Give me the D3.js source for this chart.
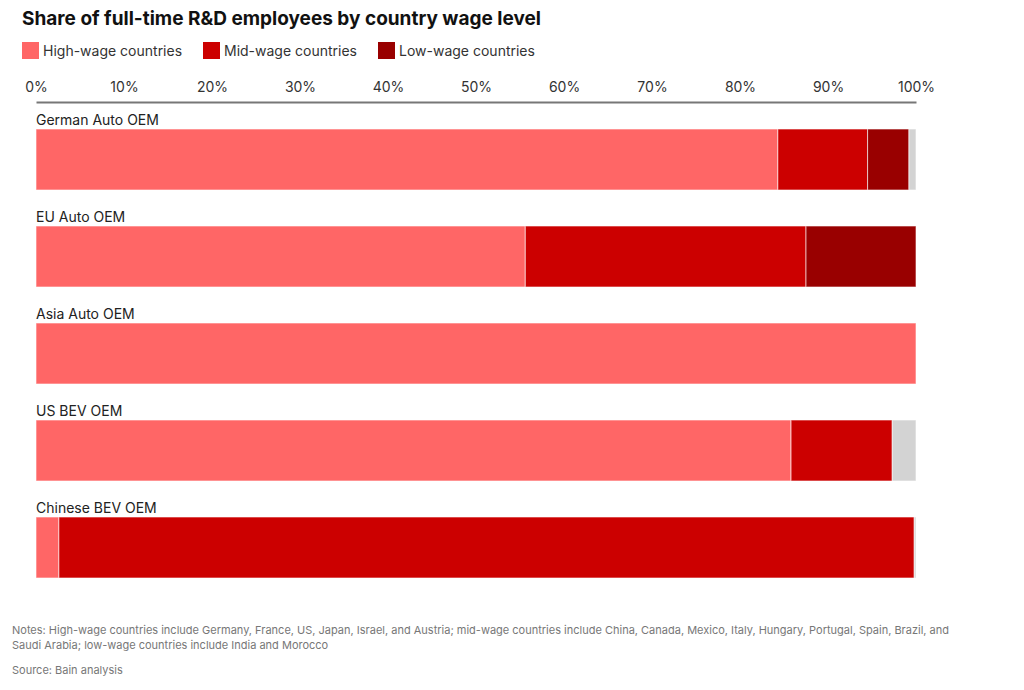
<!DOCTYPE html>
<html lang="en">
<head>
    <meta charset="UTF-8">
    <script src="https://cdnjs.cloudflare.com/ajax/libs/d3/7.9.0/d3.min.js"></script>
    <title>R&D employees by wage level</title>
    <style>
        body {
            margin: 0;
            padding: 0;
            background: #fff;
            font-family: Inter, "Noto Sans", Arial, sans-serif;
        }
        svg { display: block; }
    </style>
</head>
<body>
<div id="chart"></div>
<script>
    // data (percent of full-time R&D staff)
    const companies = ["German Auto OEM", "EU Auto OEM", "Asia Auto OEM", "US BEV OEM", "Chinese BEV OEM"];
    const highWage = [84.3, 55.6, 100, 85.8, 2.6];
    const midWage  = [10.2, 31.9, 0, 11.5, 97.2];
    const lowWage  = [4.7, 12.5, 0, 0, 0];
    const other    = [0.8, 0, 0, 2.7, 0.2];
    const ticks = [0, 10, 20, 30, 40, 50, 60, 70, 80, 90, 100];

    const seriesNames = ["High-wage countries", "Mid-wage countries", "Low-wage countries", "Other"];
    const colors = ["#ff6666", "#cc0000", "#990000", "#d3d3d3"];

    const width = 1024, height = 690;
    const svg = d3.select("#chart").append("svg").attr("width", width).attr("height", height);

    const rows = companies.map((c, i) => ({
        company: c, high: highWage[i], mid: midWage[i], low: lowWage[i], other: other[i]
    }));
    const stack = d3.stack().keys(["high", "mid", "low", "other"])(rows);

    const x = d3.scaleLinear().domain([0, 100]).range([36, 916]);
    // one band per company, step 97px; bar is 61px at top of band
    const yb = d3.scaleBand().domain(companies).range([129, 129 + 97 * 5]).paddingInner(0);

    // title
    svg.append("text")
        .attr("x", 22).attr("y", 25)
        .attr("font-size", 19).attr("font-weight", 700).attr("fill", "#111")
        .text("Share of full-time R&D employees by country wage level");

    // legend
    const legendX = [22, 203, 378];
    seriesNames.slice(0, 3).forEach((n, i) => {
        const g = svg.append("g").attr("transform", `translate(${legendX[i]},42)`);
        g.append("rect").attr("width", 17).attr("height", 17).attr("fill", colors[i]);
        g.append("text").attr("x", 21).attr("y", 14).attr("font-size", 14).attr("fill", "#333").text(n);
    });

    // top axis
    const axis = svg.append("g").attr("transform", "translate(0,102)")
        .call(d3.axisTop(x).tickValues(ticks).tickFormat(d => d + "%").tickSize(0).tickPadding(10));
    axis.select(".domain").attr("stroke", "#777").attr("stroke-width", 2);
    axis.selectAll("text").attr("font-size", 14).attr("fill", "#333")
        .attr("font-family", "Inter, 'Noto Sans', Arial, sans-serif");

    // bars
    svg.append("g").selectAll("g")
        .data(stack)
        .join("g")
        .attr("fill", (d, i) => colors[i])
        .selectAll("rect")
        .data(d => d.filter(s => s[1] - s[0] > 0))
        .join("rect")
        .attr("x", d => x(d[0]))
        .attr("y", d => yb(d.data.company))
        .attr("width", d => x(d[1]) - x(d[0]))
        .attr("height", 61)
        .attr("stroke", "#fff")
        .attr("stroke-opacity", 0.6)
        .attr("stroke-width", 1);

    // company labels
    svg.append("g").selectAll("text")
        .data(companies)
        .join("text")
        .attr("x", 36)
        .attr("y", d => yb(d) - 4)
        .attr("font-size", 14).attr("fill", "#222")
        .text(d => d);

    // notes
    const notes = [
        "Notes: High-wage countries include Germany, France, US, Japan, Israel, and Austria; mid-wage countries include China, Canada, Mexico, Italy, Hungary, Portugal, Spain, Brazil, and",
        "Saudi Arabia; low-wage countries include India and Morocco"
    ];
    svg.append("g").selectAll("text")
        .data(notes)
        .join("text")
        .attr("x", 12).attr("y", (d, i) => 634 + i * 15)
        .attr("font-size", 11).attr("fill", "#777")
        .text(d => d);
    svg.append("text").attr("x", 12).attr("y", 674)
        .attr("font-size", 11).attr("fill", "#777")
        .text("Source: Bain analysis");
</script>
</body>
</html>
